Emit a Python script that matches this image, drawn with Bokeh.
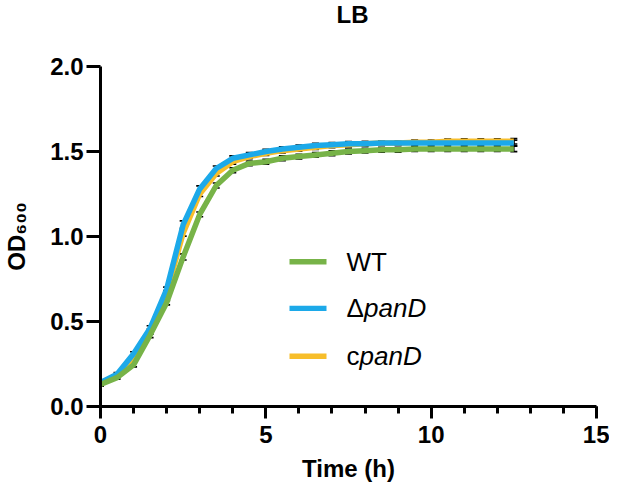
import math
from bokeh.plotting import figure
from bokeh.layouts import column
from bokeh.models import (ColumnDataSource, Whisker, TeeHead, Label, BoxAnnotation, FixedTicker,
                          Range1d, CustomJSTickFormatter, Div)
from bokeh.embed import file_html
from bokeh.resources import INLINE

# ---- data ----
time_h = [0.0, 0.5, 1.0, 1.5, 2.0, 2.5, 3.0, 3.5, 4.0, 4.5, 5.0, 5.5, 6.0,
          6.5, 7.0, 7.5, 8.0, 8.5, 9.0, 9.5, 10.0, 10.5, 11.0, 11.5, 12.0, 12.5]

wt = [0.13, 0.17, 0.245, 0.42, 0.61, 0.88, 1.13, 1.30, 1.39, 1.43, 1.44, 1.46, 1.47,
      1.48, 1.49, 1.50, 1.505, 1.51, 1.51, 1.515, 1.515, 1.515, 1.515, 1.515, 1.515, 1.515]
wt_sd = [0.010, 0.010, 0.012, 0.015, 0.012, 0.018, 0.014, 0.015, 0.014, 0.014, 0.014, 0.014, 0.014,
         0.014, 0.014, 0.014, 0.014, 0.014, 0.014, 0.014, 0.014, 0.014, 0.014, 0.014, 0.015, 0.016]

dpand = [0.14, 0.19, 0.31, 0.46, 0.69, 1.07, 1.28, 1.40, 1.46, 1.48, 1.50, 1.515, 1.525,
         1.535, 1.54, 1.545, 1.545, 1.55, 1.55, 1.55, 1.55, 1.55, 1.55, 1.55, 1.55, 1.55]
dpand_sd = [0.010, 0.010, 0.012, 0.015, 0.012, 0.022, 0.018, 0.015, 0.014, 0.014, 0.013, 0.013, 0.013,
            0.013, 0.013, 0.013, 0.013, 0.013, 0.013, 0.013, 0.013, 0.013, 0.013, 0.014, 0.014, 0.016]

cpand = [0.14, 0.18, 0.29, 0.44, 0.67, 1.02, 1.25, 1.37, 1.44, 1.47, 1.49, 1.505, 1.515,
         1.525, 1.535, 1.54, 1.545, 1.55, 1.55, 1.555, 1.555, 1.56, 1.56, 1.56, 1.56, 1.56]
cpand_sd = [0.010, 0.010, 0.012, 0.015, 0.012, 0.018, 0.015, 0.014, 0.014, 0.013, 0.013, 0.013, 0.013,
            0.013, 0.013, 0.013, 0.013, 0.013, 0.013, 0.013, 0.013, 0.013, 0.014, 0.014, 0.014, 0.016]

x_ticks = [0, 5, 10, 15]
y_ticks = [0.0, 0.5, 1.0, 1.5, 2.0]

title_text = "LB"
series_names = ["WT", "\u0394panD", "cpanD"]
colors = {"WT": "#77B348", "dpanD": "#1CA9E9", "cpanD": "#F7BE2B"}

FONT = "Liberation Sans"
W = 609
LEFT, RIGHT = 99, 13

title_div = Div(text=title_text, width=W, height=20,
                styles={"font-family": FONT, "font-weight": "bold", "font-size": "24px",
                        "line-height": "20px", "color": "black", "text-align": "center",
                        "padding-left": f"{2 * (LEFT + (W - LEFT - RIGHT) / 2) - W}px",
                        "box-sizing": "border-box"})

p = figure(width=W, height=460, output_backend="svg", toolbar_location=None,
           x_range=Range1d(0, 15), y_range=Range1d(0, 2))
p.min_border_left = LEFT
p.min_border_right = RIGHT
p.min_border_top = 36
p.min_border_bottom = 84
p.outline_line_color = None
p.xgrid.visible = False
p.ygrid.visible = False
p.background_fill_color = "white"
p.border_fill_color = "white"

for ax in (p.xaxis[0], p.yaxis[0]):
    ax.axis_line_width = 3
    ax.axis_line_color = "black"
    ax.major_tick_line_width = 3
    ax.major_tick_line_color = "black"
    ax.minor_tick_line_width = 3
    ax.minor_tick_line_color = "black"
    ax.major_tick_in = 0
    ax.minor_tick_in = 0
    ax.major_label_text_font = FONT
    ax.major_label_text_font_style = "bold"
    ax.major_label_text_font_size = "24px"
    ax.major_label_text_color = "black"
    ax.axis_label_text_font = FONT
    ax.axis_label_text_font_style = "bold"
    ax.axis_label_text_font_size = "24px"
    ax.axis_label_text_color = "black"

p.xaxis.ticker = FixedTicker(ticks=x_ticks, minor_ticks=list(range(0, 16)))
p.xaxis.major_tick_out = 12
p.xaxis.minor_tick_out = 7
p.xaxis.major_label_standoff = 7
p.xaxis.axis_label = "Time (h)"
p.xaxis.axis_label_standoff = 9

p.yaxis.ticker = FixedTicker(ticks=y_ticks, minor_ticks=[])
p.yaxis.major_tick_out = 14
p.yaxis.major_label_standoff = 3
p.yaxis.formatter = CustomJSTickFormatter(code="return tick.toFixed(1);")
p.yaxis.axis_label = "OD\u2086\u2080\u2080"
p.yaxis.axis_label_standoff = 17

src = ColumnDataSource(dict(
    t=time_h,
    wt=wt, wt_lo=[v - s for v, s in zip(wt, wt_sd)], wt_hi=[v + s for v, s in zip(wt, wt_sd)],
    dp=dpand, dp_lo=[v - s for v, s in zip(dpand, dpand_sd)], dp_hi=[v + s for v, s in zip(dpand, dpand_sd)],
    cp=cpand, cp_lo=[v - s for v, s in zip(cpand, cpand_sd)], cp_hi=[v + s for v, s in zip(cpand, cpand_sd)],
))

LW = 5.5
p.line("t", "cp", source=src, line_color=colors["cpanD"], line_width=LW, line_join="round")
p.line("t", "dp", source=src, line_color=colors["dpanD"], line_width=LW, line_join="round")
p.line("t", "wt", source=src, line_color=colors["WT"], line_width=LW, line_join="round")

for lo, hi in (("cp_lo", "cp_hi"), ("dp_lo", "dp_hi"), ("wt_lo", "wt_hi")):
    w = Whisker(source=src, base="t", lower=lo, upper=hi, line_color="black", line_width=1.5,
                upper_head=TeeHead(size=7, line_width=1.6, line_color="black"),
                lower_head=TeeHead(size=7, line_width=1.6, line_color="black"))
    p.add_layout(w)

# legend (manual, for mixed italic) - positions relative to plot frame
leg_y = [144.7, 98.1, 50.2]
leg_cols = [colors["WT"], colors["dpanD"], colors["cpanD"]]
for yy, c in zip(leg_y, leg_cols):
    p.add_layout(BoxAnnotation(left=189, right=226, bottom=yy - 2.7, top=yy + 2.7,
                               left_units="screen", right_units="screen",
                               bottom_units="screen", top_units="screen",
                               fill_color=c, fill_alpha=1.0, line_alpha=0))

LF = "26px"
def leg_text(x, y, txt, style="normal"):
    p.add_layout(Label(x=x, y=y, x_units="screen", y_units="screen", text=txt,
                       text_font=FONT, text_font_style=style, text_font_size=LF,
                       text_align="left", text_baseline="middle", text_color="black"))

TX = 246
leg_text(TX, leg_y[0], "WT")
leg_text(TX, leg_y[1], "\u0394")
leg_text(TX + 17.5, leg_y[1], "panD", "italic")
leg_text(TX, leg_y[2], "c")
leg_text(TX + 13, leg_y[2], "panD", "italic")

layout = column(title_div, p, spacing=0)
open("out.html", "w").write(file_html(layout, INLINE))
